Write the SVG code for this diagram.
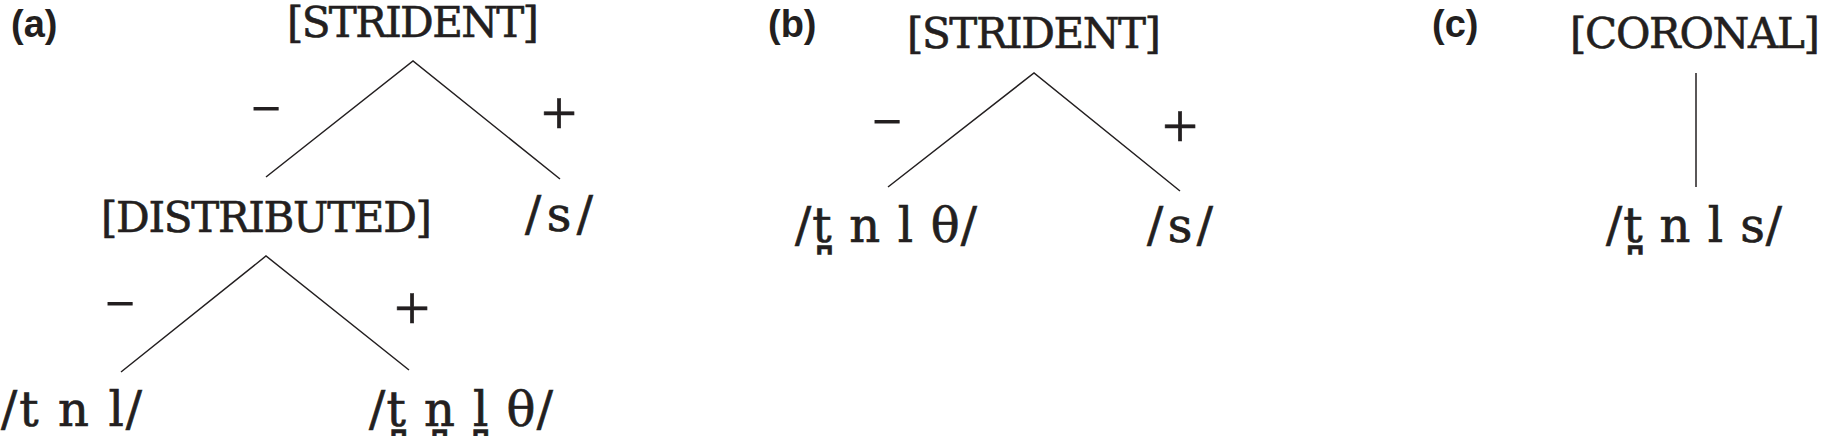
<svg xmlns="http://www.w3.org/2000/svg" width="1821" height="436" viewBox="0 0 1821 436">
<style>
.bg{fill:#ffffff}
.lbl{font-family:"Liberation Sans",Arial,sans-serif;font-weight:bold;font-size:38px;fill:#231f20}
.feat{font-family:"DejaVu Serif","Liberation Serif",serif;font-size:42px;fill:#231f20;stroke:#231f20;stroke-width:0.6}
.seg{font-family:"DejaVu Serif","Liberation Serif",serif;font-size:48px;fill:#231f20;stroke:#231f20;stroke-width:0.7}
.plus{font-family:"Liberation Serif","DejaVu Serif",serif;font-size:64px;fill:#231f20;stroke:#231f20;stroke-width:0.7;text-anchor:middle}
.minus{font-family:"Liberation Serif","DejaVu Serif",serif;font-size:52px;fill:#231f20;stroke:#231f20;stroke-width:0.9;text-anchor:middle}
.edge{stroke:#231f20;stroke-width:1.5;fill:none;stroke-linejoin:miter}
</style>
<rect class="bg" x="0" y="0" width="1821" height="436"/>
<g id="panel-labels">
<text class="lbl" x="11" y="37">(a)</text>
<text class="lbl" x="768" y="37">(b)</text>
<text class="lbl" x="1432" y="37">(c)</text>
</g>
<g id="connectors">
<polyline class="edge" points="266,177 413,61 560,179"/>
<polyline class="edge" points="121,372 266,256 409,370"/>
<polyline class="edge" points="888,187 1034,73 1180,191"/>
<line class="edge" x1="1696" y1="73" x2="1696" y2="187"/>
</g>
<g id="edge-labels">
<text class="minus" x="266" y="126">−</text>
<text class="plus" x="559" y="135">+</text>
<text class="minus" x="120" y="321">−</text>
<text class="plus" x="412" y="330">+</text>
<text class="minus" x="887" y="139">−</text>
<text class="plus" x="1180" y="148">+</text>
</g>
<g id="a-strident"><text class="feat" x="287" y="37" textLength="252">[STRIDENT]</text></g>
<g id="a-distributed"><text class="feat" x="101" y="232" textLength="331">[DISTRIBUTED]</text></g>
<g id="a-s"><text class="seg" x="525" y="231" textLength="68">/s/</text></g>
<g id="a-tnl"><text class="seg" x="1" y="426" textLength="141">/t n l/</text></g>
<g id="a-dental"><text class="seg" x="369" y="426" textLength="184">/t̪ n̪ l̪ θ/</text></g>
<g id="b-strident"><text class="feat" x="907" y="48" textLength="254">[STRIDENT]</text></g>
<g id="b-nonstrident"><text class="seg" x="795" y="242" textLength="182">/t̪ n l θ/</text></g>
<g id="b-s"><text class="seg" x="1147" y="242" textLength="66">/s/</text></g>
<g id="c-coronal"><text class="feat" x="1570" y="48" textLength="250">[CORONAL]</text></g>
<g id="c-all"><text class="seg" x="1606" y="242" textLength="176">/t̪ n l s/</text></g>
</svg>
